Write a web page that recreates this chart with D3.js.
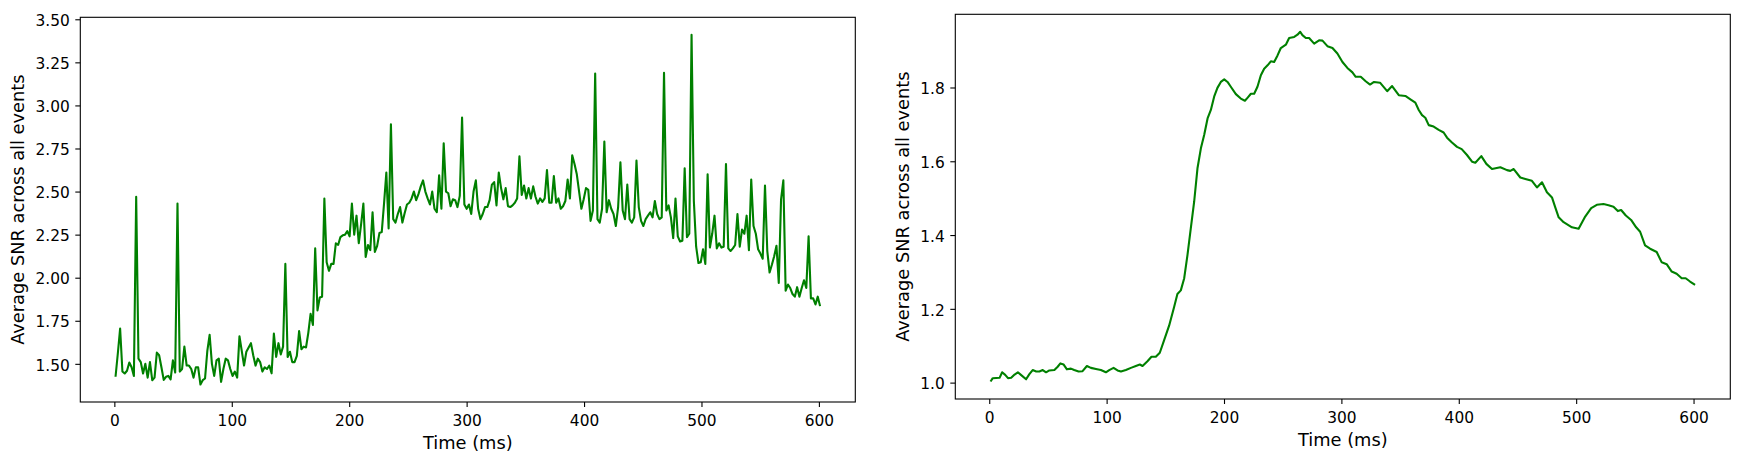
<!DOCTYPE html>
<html>
<head>
<meta charset="utf-8">
<script src="https://cdn.jsdelivr.net/npm/d3@7"></script>
<style>
body { margin: 0; background: #fff; }
svg { display: block; font-family: "DejaVu Sans", sans-serif; }
</style>
</head>
<body>
<svg></svg>
<script>
var svgWidth = 1753, svgHeight = 463;

// left panel: raw average SNR, one value per sample (~1.95 ms apart, 1..601 ms)
var rawSnr = [
    1.425, 1.56, 1.705, 1.456, 1.444, 1.46, 1.508, 1.48, 1.43, 2.47,
    1.53, 1.51, 1.444, 1.50, 1.42, 1.51, 1.405, 1.42, 1.565, 1.55,
    1.48, 1.407, 1.425, 1.43, 1.41, 1.52, 1.45, 2.43, 1.455, 1.47,
    1.60, 1.49, 1.49, 1.47, 1.42, 1.48, 1.48, 1.38, 1.405, 1.415,
    1.575, 1.668, 1.50, 1.43, 1.52, 1.53, 1.395, 1.47, 1.53, 1.52,
    1.47, 1.43, 1.455, 1.42, 1.66, 1.575, 1.49, 1.57, 1.595, 1.62,
    1.55, 1.49, 1.53, 1.51, 1.455, 1.48, 1.47, 1.49, 1.445, 1.676,
    1.54, 1.62,
    1.555, 1.60, 2.08, 1.54, 1.57, 1.51, 1.51, 1.546, 1.69, 1.585,
    1.60, 1.595, 1.68, 1.79, 1.726, 2.17, 1.81, 1.885, 1.89, 2.46,
    2.09, 2.04, 2.08, 2.08, 2.20, 2.19, 2.236, 2.246, 2.25, 2.27,
    2.24, 2.43, 2.25, 2.36, 2.20, 2.31, 2.43, 2.12, 2.19, 2.16,
    2.38, 2.15, 2.185, 2.26, 2.265, 2.43, 2.61, 2.286, 2.89, 2.34,
    2.32, 2.37, 2.41, 2.32, 2.375, 2.425, 2.435, 2.46, 2.50, 2.45,
    2.485, 2.53, 2.565, 2.50, 2.46, 2.425, 2.50, 2.40, 2.38, 2.595,
    2.40, 2.78, 2.50, 2.49, 2.415, 2.455, 2.45, 2.41, 2.475, 2.93,
    2.425, 2.40, 2.425, 2.37,
    2.50, 2.565, 2.40, 2.34, 2.37, 2.41, 2.41, 2.45, 2.54, 2.555,
    2.42, 2.61, 2.52, 2.455, 2.52, 2.415, 2.41, 2.42, 2.435, 2.46,
    2.705, 2.48, 2.535, 2.46, 2.52, 2.46, 2.53, 2.47, 2.43, 2.46,
    2.44, 2.46, 2.625, 2.435, 2.435, 2.59, 2.435, 2.46, 2.40, 2.415,
    2.445, 2.57, 2.46, 2.71, 2.66, 2.60, 2.50, 2.40, 2.455, 2.52,
    2.51, 2.33, 2.39, 3.185, 2.34, 2.32, 2.40, 2.79, 2.38, 2.45,
    2.40, 2.37, 2.30, 2.41, 2.67, 2.39, 2.34, 2.54, 2.34, 2.32,
    2.35, 2.68, 2.41, 2.33, 2.30, 2.34, 2.36, 2.38, 2.35, 2.445,
    2.37, 2.34, 2.35, 3.19,
    2.39, 2.42, 2.35, 2.23, 2.46, 2.24, 2.21, 2.215, 2.635, 2.235,
    2.255, 3.41, 2.445, 2.18, 2.085, 2.09, 2.165, 2.08, 2.60, 2.175,
    2.255, 2.36, 2.17, 2.20, 2.175, 2.18, 2.66, 2.17, 2.155, 2.17,
    2.19, 2.37, 2.18, 2.28, 2.255, 2.36, 2.16, 2.57, 2.30, 2.255,
    2.165, 2.14, 2.11, 2.535, 2.155, 2.03, 2.075, 2.125, 2.185, 1.97,
    2.455, 2.565, 1.925, 1.96, 1.94, 1.905, 1.89, 1.945, 1.89, 1.94,
    1.985, 1.94, 2.24, 1.88, 1.88, 1.845, 1.89, 1.835
];
var rawStart = 1, rawEnd = 601;
var rawTime = rawSnr.map(function (d, i) {
    return rawStart + i * (rawEnd - rawStart) / (rawSnr.length - 1);
});

var smoothTime = [
    1.1, 3, 8.8, 11, 13.6, 16, 18.7, 21.6, 24.4, 27,
    31.4, 34.2, 37, 40, 42.7, 45.6, 48.4, 51.2, 55.5, 58.3,
    60.6, 63.4, 66.2, 69.6, 72.4, 76.1, 79.5, 83.2, 86.6, 90.9,
    95.1, 99.4, 102.2, 105.9, 109.3, 112.2, 116.4, 120.7, 124.9, 128.3,
    130.6, 134.8, 138.2, 141.9, 145.3, 149, 153.3, 157.5, 160.3, 163.2,
    166.1, 168.9, 171.7, 174.6, 177.4, 180.3, 183.1, 186, 188.8, 191.6,
    194.4, 197.3, 200.2, 203, 205.8, 210.1, 214.3, 217.8, 220, 222.9,
    225.7, 228.5, 231.4, 234.2, 237.1, 239.9, 242.7, 245.6, 248.4, 252.7,
    255.5, 259.8, 262.6, 264.9, 266.8, 269.7, 272.5, 276.8, 281, 283.9,
    288.1, 292.4, 296.6, 300.9, 305.1, 309.4, 312.2, 316.5, 320.7, 324.4,
    327.8, 332.9, 339, 343.2, 348.9, 354.5, 358.8, 363, 365.9, 368.7,
    371.5, 374.4, 378.6, 382.9, 387.1, 390, 394.2, 398.5, 402.5, 407,
    411.3, 414.1, 419.2, 423.5, 428.3, 435.4, 441.1, 443.9, 446.8, 452.4,
    456.7, 462.3, 466.6, 470.9, 475.1, 479.4, 482.2, 485.1, 489.3, 496.4,
    502.1, 507.7, 512.8, 517.6, 523.3, 527.6, 531.8, 535.5, 538.3, 542.3,
    546.8, 551.1, 554.5, 558.7, 563, 568.6, 572.9, 577.1, 581.4, 585.6,
    589.9, 593.3, 597, 601.3
];
var smoothSnr = [
    1.003, 1.012, 1.013, 1.028, 1.021, 1.012, 1.013, 1.022, 1.028, 1.021,
    1.009, 1.023, 1.034, 1.030, 1.030, 1.034, 1.028, 1.033, 1.034, 1.043,
    1.052, 1.049, 1.036, 1.038, 1.034, 1.030, 1.031, 1.045, 1.040, 1.037,
    1.034, 1.028, 1.034, 1.040, 1.033, 1.030, 1.034, 1.040, 1.045, 1.049,
    1.045, 1.058, 1.070, 1.070, 1.081, 1.115, 1.155, 1.205, 1.240, 1.250,
    1.283, 1.346, 1.418, 1.491, 1.581, 1.635, 1.671, 1.716, 1.739, 1.775,
    1.799, 1.815, 1.822, 1.815, 1.802, 1.782, 1.770, 1.764, 1.772, 1.783,
    1.783, 1.802, 1.833, 1.851, 1.860, 1.871, 1.869, 1.887, 1.907, 1.916,
    1.934, 1.937, 1.943, 1.951, 1.942, 1.934, 1.934, 1.919, 1.928, 1.927,
    1.912, 1.907, 1.892, 1.869, 1.853, 1.841, 1.829, 1.829, 1.817, 1.808,
    1.815, 1.813, 1.790, 1.804, 1.779, 1.777, 1.768, 1.759, 1.739, 1.725,
    1.718, 1.698, 1.694, 1.685, 1.678, 1.664, 1.651, 1.639, 1.633, 1.617,
    1.599, 1.596, 1.614, 1.593, 1.579, 1.584, 1.576, 1.574, 1.579, 1.556,
    1.552, 1.547, 1.529, 1.543, 1.516, 1.502, 1.475, 1.448, 1.435, 1.421,
    1.417, 1.450, 1.473, 1.482, 1.484, 1.481, 1.477, 1.465, 1.468, 1.453,
    1.441, 1.421, 1.409, 1.372, 1.363, 1.354, 1.326, 1.321, 1.301, 1.295,
    1.283, 1.283, 1.274, 1.265
];

var xTicks = [0, 100, 200, 300, 400, 500, 600];
var rawYTicks = [1.50, 1.75, 2.00, 2.25, 2.50, 2.75, 3.00, 3.25, 3.50];
var smoothYTicks = [1.0, 1.2, 1.4, 1.6, 1.8];

var svg = d3.select('svg')
    .attr('width', svgWidth)
    .attr('height', svgHeight);

svg.append('rect')
    .attr('width', svgWidth)
    .attr('height', svgHeight)
    .attr('fill', '#fff');

// matplotlib-style 5% margin around the data
function padded(values) {
    var ext = d3.extent(values);
    var pad = (ext[1] - ext[0]) * 0.05;
    return [ext[0] - pad, ext[1] + pad];
}

function drawPanel(p) {
    var x = d3.scaleLinear().domain(padded(p.time)).range([p.left, p.right]);
    var y = d3.scaleLinear().domain(padded(p.values)).range([p.bottom, p.top]);
    var g = svg.append('g');

    var xAxis = g.append('g')
        .attr('transform', 'translate(0,' + p.bottom + ')')
        .call(d3.axisBottom(x).tickValues(xTicks).tickSize(5).tickPadding(8));

    var yAxis = g.append('g')
        .attr('transform', 'translate(' + p.left + ',0)')
        .call(d3.axisLeft(y).tickValues(p.yTicks).tickFormat(d3.format(p.yFormat))
            .tickSize(5).tickPadding(5.5));

    [xAxis, yAxis].forEach(function (a) {
        a.select('.domain').remove();
        a.selectAll('.tick line').attr('stroke', '#000').attr('stroke-width', 1.1);
        a.selectAll('.tick text')
            .attr('fill', '#000')
            .style('font-family', '"DejaVu Sans", sans-serif')
            .style('font-size', '15.4px');
    });
    yAxis.selectAll('.tick text').attr('dy', '0.40em');

    var line = d3.line()
        .x(function (d, i) { return x(p.time[i]); })
        .y(function (d) { return y(d); });

    g.append('path')
        .datum(p.values)
        .attr('d', line)
        .attr('fill', 'none')
        .attr('stroke', '#008000')
        .attr('stroke-width', 2.1)
        .attr('stroke-linejoin', 'round');

    g.append('rect')
        .attr('x', p.left)
        .attr('y', p.top)
        .attr('width', p.right - p.left)
        .attr('height', p.bottom - p.top)
        .attr('fill', 'none')
        .attr('stroke', '#000')
        .attr('stroke-width', 1.1);

    g.append('text')
        .attr('x', (p.left + p.right) / 2)
        .attr('y', p.bottom + 47)
        .attr('text-anchor', 'middle')
        .style('font-size', '17.8px')
        .text('Time (ms)');

    g.append('text')
        .attr('transform', 'translate(' + p.labelX + ',' + (p.top + p.bottom) / 2 + ') rotate(-90)')
        .attr('text-anchor', 'middle')
        .style('font-size', '17.8px')
        .text('Average SNR across all events');
}

drawPanel({
    time: rawTime, values: rawSnr, yTicks: rawYTicks, yFormat: '.2f',
    left: 80.3, right: 855.3, top: 17.3, bottom: 402, labelX: 24
});

drawPanel({
    time: smoothTime, values: smoothSnr, yTicks: smoothYTicks, yFormat: '.1f',
    left: 955.3, right: 1730.3, top: 14.3, bottom: 399, labelX: 909
});
</script>
</body>
</html>
